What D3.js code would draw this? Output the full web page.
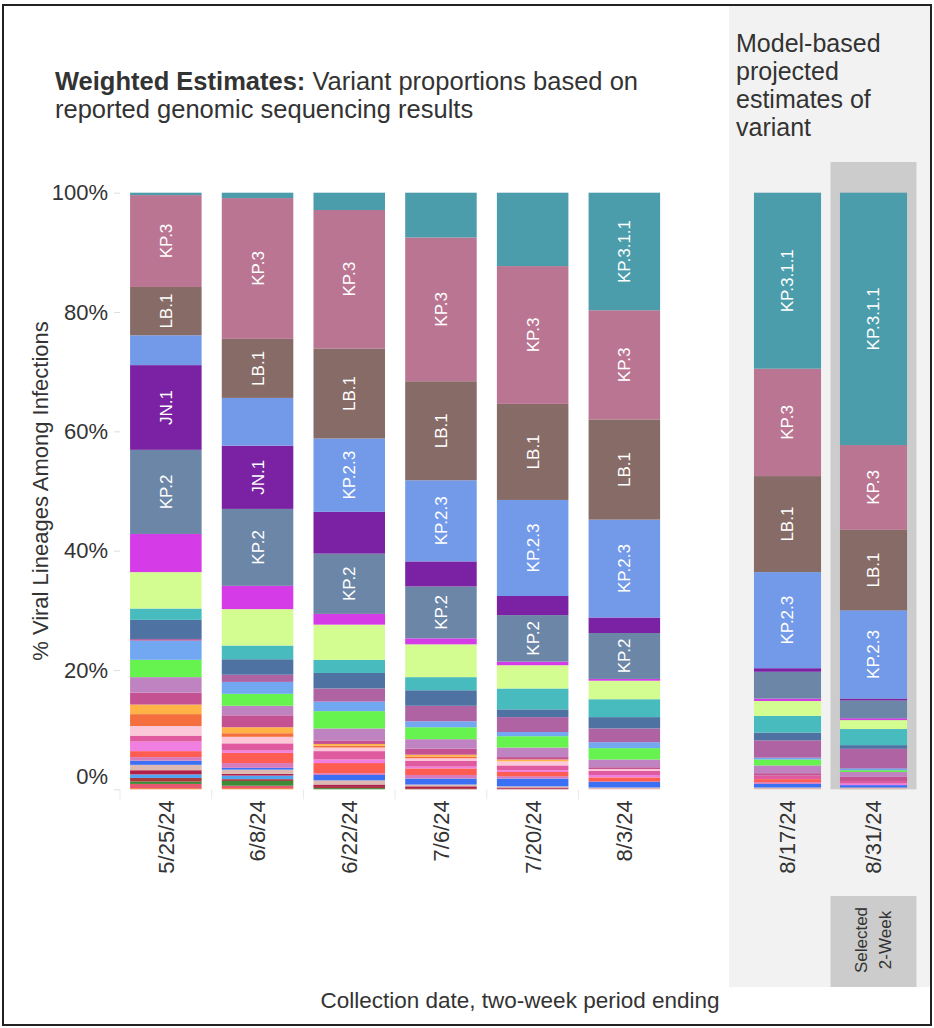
<!DOCTYPE html>
<html>
<head>
<meta charset="utf-8">
<script src="https://cdn.jsdelivr.net/npm/d3@7"></script>
<style>
  body { margin: 0; background: #fff; }
  text { font-family: "Liberation Sans", Arial, sans-serif; fill: #333; }
</style>
</head>
<body>
<div id="chart"></div>
<script>
// variants, listed from top of the bar to the bottom
const variants = ["KP.3.1.1", "KP.3", "LB.1", "KP.2.3", "JN.1", "KP.2", "KP.1.1", "JN.1.18",
  "KS.1", "JN.1.16", "JN.1.16.1", "KP.2.15", "JN.1.7", "KP.1.1.3", "KQ.1", "JN.1.11.1",
  "JN.1.13.1", "LP.1", "XDP", "KP.4.1", "JN.1.8.1", "KP.1.2", "JN.1.4.3", "XDQ",
  "KP.2.2", "JN.1.32", "KW.1.1", "XDV.1", "JN.1.35", "BA.2.86.1"];
const colors = ["#4c9dab", "#ba7592", "#876b66", "#739ae8", "#7a22a3", "#6c86a8", "#d63be8", "#d4fd91",
  "#48bbbf", "#4e73a3", "#b063a3", "#72a7f2", "#66f24f", "#c083c1", "#c45292", "#ffb347",
  "#f46f3d", "#fbc7d9", "#e05aa0", "#f07fe1", "#ff5c52", "#d87bbd", "#3b70f5", "#dcbab2",
  "#b0214a", "#50a6f2", "#a83a3a", "#3e8a38", "#e8586e", "#f27a42"];

const observedDates = ["5/25/24", "6/8/24", "6/22/24", "7/6/24", "7/20/24", "8/3/24"];
const projectedDates = ["8/17/24", "8/31/24"];
const selectedDate = "8/31/24";

// share (%) of each variant, same order as variants
const w0525 = [0.4, 15.4, 8.1, 5.0, 14.2, 14.1, 6.4, 6.1, 1.9, 3.2, 0.3, 3.2, 2.9, 2.6, 2.0, 1.6, 2.0, 1.6, 1.0, 1.6, 1.0, 0.6, 0.7, 0.9, 0.7, 0.6, 0.6, 0.4, 0.7, 0.2];
const w0608 = [0.9, 23.6, 9.9, 8.0, 10.6, 12.9, 3.9, 6.1, 2.3, 2.6, 1.2, 2.0, 2.0, 1.6, 2.0, 1.0, 0.6, 1.1, 1.2, 0.4, 1.7, 0.8, 0.3, 0.7, 0.3, 0.6, 0.3, 0.8, 0.4, 0.2];
const w0622 = [2.9, 23.2, 15.1, 12.3, 7.0, 10.1, 1.8, 5.9, 2.2, 2.6, 2.2, 1.6, 2.9, 2.0, 0.6, 0.3, 0.3, 0.6, 1.4, 0.6, 1.7, 0.3, 0.9, 0.7, 0.4, 0, 0.2, 0.2, 0, 0];
const w0706 = [7.5, 24.1, 16.6, 13.6, 4.2, 8.7, 1.0, 5.5, 2.2, 2.6, 2.6, 1.0, 2.0, 1.6, 1.0, 0.3, 0.3, 0.4, 1.0, 0.3, 1.1, 0.6, 1.0, 0.3, 0.3, 0, 0.2, 0, 0, 0];
const w0720 = [12.3, 23.1, 16.1, 16.1, 3.2, 7.8, 0.6, 3.9, 3.5, 1.3, 2.5, 0.7, 1.9, 1.6, 0.4, 0.3, 0, 0.7, 0.8, 0.3, 0.7, 0.4, 1.3, 0.2, 0.2, 0, 0.1, 0, 0, 0];
const w0803 = [19.7, 18.3, 16.8, 16.4, 2.6, 7.7, 0.3, 3.1, 3.0, 1.9, 2.3, 1.0, 1.9, 1.3, 0.3, 0, 0, 0.3, 0.7, 0.4, 0.7, 0, 1.0, 0.3, 0, 0, 0, 0, 0, 0];
const p0817 = [29.5, 18.0, 16.1, 16.1, 0.6, 4.5, 0.4, 2.5, 2.8, 1.3, 2.9, 0.3, 1.0, 1.3, 0.4, 0, 0, 0, 0.6, 0, 0.5, 0.3, 0.6, 0.3, 0, 0, 0, 0, 0, 0];
const p0831 = [42.3, 14.2, 13.5, 14.8, 0.3, 3.0, 0.3, 1.5, 2.7, 0.6, 3.3, 0.3, 0.3, 0.8, 0.7, 0, 0, 0, 0.4, 0.3, 0, 0, 0.4, 0.3, 0, 0, 0, 0, 0, 0];

// variants that get a label inside their segment, per date
const labelled = [
  ["KP.3", "LB.1", "JN.1", "KP.2"],
  ["KP.3", "LB.1", "JN.1", "KP.2"],
  ["KP.3", "LB.1", "KP.2.3", "KP.2"],
  ["KP.3", "LB.1", "KP.2.3", "KP.2"],
  ["KP.3", "LB.1", "KP.2.3", "KP.2"],
  ["KP.3.1.1", "KP.3", "LB.1", "KP.2.3", "KP.2"],
  ["KP.3.1.1", "KP.3", "LB.1", "KP.2.3"],
  ["KP.3.1.1", "KP.3", "LB.1", "KP.2.3"]
];
const yTicks = [0, 20, 40, 60, 80, 100];

const W = 934, H = 1028;
const allDates = observedDates.concat(projectedDates);
const shares = [w0525, w0608, w0622, w0706, w0720, w0803, p0817, p0831];

const rows = allDates.map((d, i) => {
  const r = { date: d };
  variants.forEach((v, j) => r[v] = shares[i][j]);
  return r;
});

const svg = d3.select("#chart").append("svg")
  .attr("width", W).attr("height", H);

svg.append("rect").attr("width", W).attr("height", H).attr("fill", "#fff");

// scales
const xObs = d3.scaleBand().domain(observedDates).range([120, 670.2])
  .paddingInner(0.22).paddingOuter(0.11);
const xProj = d3.scaleBand().domain(projectedDates).range([744.5, 916.5])
  .paddingInner(0.22).paddingOuter(0.11);
const xPos = d => observedDates.includes(d) ? xObs(d) : xProj(d);
const bw = d => observedDates.includes(d) ? xObs.bandwidth() : xProj.bandwidth();
const y = d3.scaleLinear().domain([0, 100]).range([789.3, 192.7]);
const color = d3.scaleOrdinal(variants, colors);

// projection panel background
svg.append("rect")
  .attr("x", 729).attr("y", 5).attr("width", 202).attr("height", 982)
  .attr("fill", "#f2f2f2");
const selX = xProj(selectedDate) - xProj.step() * 0.11;
svg.append("rect")
  .attr("x", selX).attr("y", 162).attr("width", xProj.step()).attr("height", y(0) - 162)
  .attr("fill", "#cccccc");
svg.append("rect")
  .attr("x", selX).attr("y", 896).attr("width", xProj.step()).attr("height", 91)
  .attr("fill", "#cccccc");

// faint dividers under the observed columns
svg.append("g")
  .selectAll("line")
  .data(observedDates)
  .join("line")
  .attr("x1", d => xObs(d) - xObs.step() * 0.11)
  .attr("x2", d => xObs(d) - xObs.step() * 0.11)
  .attr("y1", y(0)).attr("y2", y(0) + 10)
  .attr("stroke", "#eaeaea");

// stacked bars
const stacked = d3.stack().keys(variants.slice().reverse())(rows);

svg.append("g")
  .selectAll("g")
  .data(stacked)
  .join("g")
  .attr("fill", d => color(d.key))
  .selectAll("rect")
  .data(d => d)
  .join("rect")
  .attr("x", d => xPos(d.data.date))
  .attr("y", d => y(d[1]))
  .attr("width", d => bw(d.data.date))
  .attr("height", d => y(d[0]) - y(d[1]));

// segment labels
const labelData = [];
allDates.forEach((d, i) => {
  labelled[i].forEach(v => {
    const s = stacked.find(k => k.key === v)[i];
    labelData.push({ date: d, name: v, mid: (s[0] + s[1]) / 2 });
  });
});
svg.append("g")
  .selectAll("text")
  .data(labelData)
  .join("text")
  .attr("transform", d => `translate(${xPos(d.date) + bw(d.date) / 2}, ${y(d.mid)}) rotate(-90)`)
  .attr("text-anchor", "middle")
  .attr("dy", "0.35em")
  .style("font-size", "17px")
  .style("fill", "#fff")
  .text(d => d.name);

// y axis
const yAxis = svg.append("g")
  .attr("transform", "translate(120,0)")
  .call(d3.axisLeft(y).tickValues(yTicks).tickFormat(d => d + "%").tickSize(6).tickPadding(6))
  .call(g => g.select(".domain").remove());
yAxis.selectAll(".tick line").attr("stroke", "#dedede");
yAxis.selectAll(".tick text")
  .style("font-size", "22px")
  .style("font-family", "\"Liberation Sans\", Arial, sans-serif")
  .style("fill", "#333")
  .attr("dy", d => d === 0 ? "-0.25em" : "0.32em");

svg.append("text")
  .attr("transform", `translate(48, ${(y(0) + y(100)) / 2}) rotate(-90)`)
  .attr("text-anchor", "middle")
  .style("font-size", "22px")
  .text("% Viral Lineages Among Infections");

// x axes
function dateAxis(scale) {
  return g => g
    .attr("transform", `translate(0, ${y(0)})`)
    .call(d3.axisBottom(scale).tickSize(0))
    .call(g => g.select(".domain").remove())
    .call(g => g.selectAll("text")
      .attr("transform", "rotate(-90)")
      .attr("text-anchor", "end")
      .attr("x", -11).attr("y", 0).attr("dy", "0.36em")
      .style("font-size", "22px")
      .style("font-family", "\"Liberation Sans\", Arial, sans-serif")
      .style("fill", "#333"));
}
svg.append("g").call(dateAxis(xObs));
svg.append("g").call(dateAxis(xProj));

svg.append("text")
  .attr("x", 520).attr("y", 1008)
  .attr("text-anchor", "middle")
  .style("font-size", "22.5px")
  .text("Collection date, two-week period ending");

// selected 2-week tag
const tag = svg.append("text")
  .attr("transform", `translate(${selX + xProj.step() / 2}, 940) rotate(-90)`)
  .attr("text-anchor", "middle")
  .style("font-size", "17px");
tag.append("tspan").attr("x", 0).attr("y", -7).text("Selected");
tag.append("tspan").attr("x", 0).attr("y", 17).text("2-Week");

// titles
const title = svg.append("text")
  .attr("x", 55).attr("y", 90)
  .style("font-size", "25.5px");
title.append("tspan").style("font-weight", "bold").text("Weighted Estimates:");
title.append("tspan").text(" Variant proportions based on");
svg.append("text")
  .attr("x", 55).attr("y", 118)
  .style("font-size", "25.5px")
  .text("reported genomic sequencing results");

const modelLines = ["Model-based", "projected", "estimates of", "variant"];
svg.append("g")
  .selectAll("text")
  .data(modelLines)
  .join("text")
  .attr("x", 736)
  .attr("y", (d, i) => 52 + i * 28)
  .style("font-size", "25px")
  .text(d => d);

// outer frame
svg.append("rect")
  .attr("x", 3).attr("y", 5).attr("width", 928).attr("height", 1020)
  .attr("fill", "none").attr("stroke", "#222").attr("stroke-width", 2);
</script>
</body>
</html>
